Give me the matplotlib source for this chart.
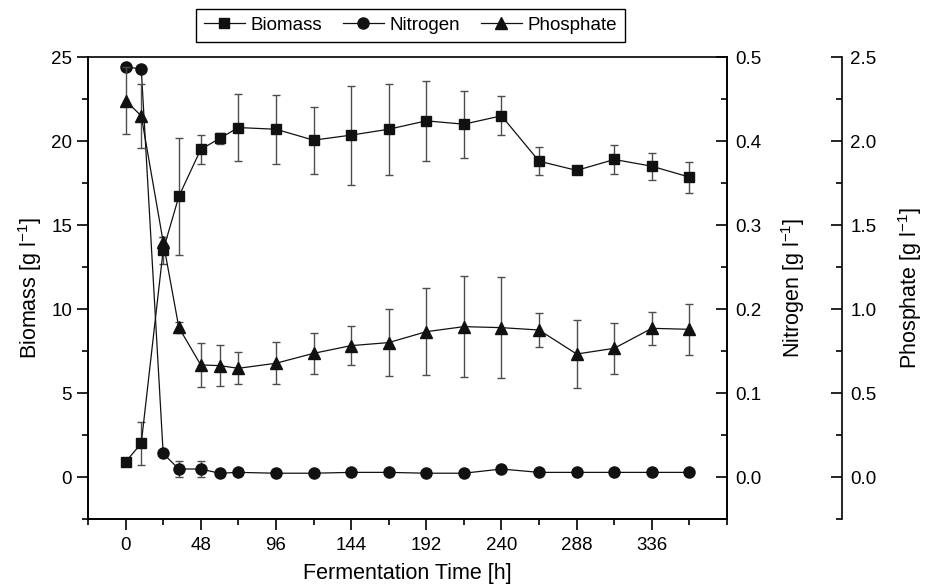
import numpy as np
import matplotlib
matplotlib.use("Agg")
import matplotlib.pyplot as plt
from matplotlib.ticker import MultipleLocator, FormatStrFormatter

plt.rcParams['font.family'] = ['Liberation Sans', 'DejaVu Sans']
plt.rcParams['mathtext.fontset'] = 'custom'
plt.rcParams['mathtext.rm'] = 'Liberation Sans'
plt.rcParams['mathtext.it'] = 'Liberation Sans'

# ---------------- data ----------------
time_h = [0, 10, 24, 34, 48, 60, 72, 96, 120, 144, 168, 192, 216, 240, 264, 288, 312, 336, 360]

biomass = [0.9, 2.0, 13.5, 16.7, 19.5, 20.15, 20.8, 20.7, 20.05, 20.35, 20.7, 21.2, 21.0, 21.5,
           18.8, 18.25, 18.9, 18.5, 17.85]
biomass_err = [0.2, 1.3, 0.8, 3.5, 0.87, 0.3, 2.0, 2.05, 2.0, 2.95, 2.7, 2.4, 2.0, 1.15,
               0.85, 0.15, 0.85, 0.8, 0.92]

nitrogen = [0.488, 0.486, 0.028, 0.0095, 0.0095, 0.0045, 0.0055, 0.0045, 0.0045, 0.0055, 0.0055,
            0.0045, 0.0045, 0.0095, 0.0055, 0.0055, 0.0055, 0.0055, 0.0055]
nitrogen_err = [0.002, 0.002, 0.002, 0.0095, 0.0095, 0.002, 0.002, 0.002, 0.002, 0.002, 0.002,
                0.002, 0.002, 0.004, 0.002, 0.002, 0.002, 0.002, 0.002]

phosphate = [2.24, 2.15, 1.40, 0.89, 0.667, 0.663, 0.647, 0.677, 0.736, 0.782, 0.80, 0.865,
             0.895, 0.889, 0.875, 0.732, 0.766, 0.885, 0.879]
phosphate_err = [0.2, 0.19, 0.03, 0.03, 0.13, 0.12, 0.096, 0.126, 0.12, 0.114, 0.20, 0.26,
                 0.30, 0.30, 0.10, 0.20, 0.15, 0.10, 0.15]

x_ticks = [0, 48, 96, 144, 192, 240, 288, 336]

# ---------------- figure ----------------
W, H = 927, 588
fig = plt.figure(figsize=(W / 100, H / 100), dpi=100)
ax = fig.add_axes([88 / W, 69 / H, (727 - 88) / W, (519 - 57) / H])
ax_n = ax.twinx()
ax_p = ax.twinx()

err_style = dict(ecolor='0.3', elinewidth=1.0, capsize=3, capthick=1.0, color='#111111', lw=0.9)

l_b = ax.errorbar(time_h, biomass, yerr=biomass_err, marker='s', ms=6.8, label='Biomass', **err_style)
l_n = ax_n.errorbar(time_h, nitrogen, yerr=nitrogen_err, marker='o', ms=8, label='Nitrogen', **err_style)
l_p = ax_p.errorbar(time_h, phosphate, yerr=phosphate_err, marker='^', ms=9, label='Phosphate', **err_style)

# x axis
ax.set_xlim(-24, 384)
ax.set_xticks(x_ticks)
ax.xaxis.set_minor_locator(MultipleLocator(24))
ax.set_xlabel('Fermentation Time [h]', fontsize=15.5)
ax.xaxis.set_label_coords(0.5, (519 - 573) / 462)
ax.xaxis.label.set_va('center')

# left axis (biomass)
ax.set_ylim(-2.5, 25)
ax.set_yticks([0, 5, 10, 15, 20, 25])
ax.yaxis.set_minor_locator(MultipleLocator(2.5))
ax.set_ylabel('Biomass [g l$^{-1}$]', fontsize=15.5)
ax.yaxis.set_label_coords((30 - 88) / 639, 0.5)
ax.yaxis.label.set_va('center')
ax.spines['top'].set_visible(False)
ax.tick_params(axis='both', which='major', direction='out', length=8, width=1.2, labelsize=13.5)
ax.tick_params(axis='both', which='minor', direction='out', length=4.5, width=1.2)
ax.tick_params(axis='x', which='major', pad=5)
ax.tick_params(axis='y', right=False, which='both')

# nitrogen axis (right spine)
ax_n.set_ylim(-0.05, 0.5)
ax_n.set_yticks([0.0, 0.1, 0.2, 0.3, 0.4, 0.5])
ax_n.yaxis.set_major_formatter(FormatStrFormatter('%.1f'))
ax_n.yaxis.set_minor_locator(MultipleLocator(0.05))
ax_n.set_ylabel('Nitrogen [g l$^{-1}$]', fontsize=15.5)
ax_n.yaxis.set_label_coords((793 - 88) / 639, 0.5)
ax_n.yaxis.label.set_va('center')
ax_n.tick_params(axis='y', which='major', direction='in', length=8, width=1.2, labelsize=13.5, pad=6)
ax_n.tick_params(axis='y', which='minor', direction='in', length=4.5, width=1.2)

# phosphate axis (offset, in points)
ax_p.spines['right'].set_position(('outward', (842 - 727) * 0.72))
for s in ['left', 'top', 'bottom']:
    ax_p.spines[s].set_visible(False)
ax_p.set_ylim(-0.25, 2.5)
ax_p.set_yticks([0.0, 0.5, 1.0, 1.5, 2.0, 2.5])
ax_p.yaxis.set_major_formatter(FormatStrFormatter('%.1f'))
ax_p.yaxis.set_minor_locator(MultipleLocator(0.25))
ax_p.set_ylabel('Phosphate [g l$^{-1}$]', fontsize=15.5)
ax_p.yaxis.set_label_coords((910 - 88) / 639, 0.5)
ax_p.yaxis.label.set_va('center')
ax_p.tick_params(axis='y', which='major', direction='in', length=8, width=1.2, labelsize=13.5, pad=6)
ax_p.tick_params(axis='y', which='minor', direction='in', length=4.5, width=1.2)

for a in (ax, ax_n, ax_p):
    for s in a.spines.values():
        s.set_linewidth(1.2)
    a.patch.set_visible(False)

# legend above the plot
handles = [l_b[0], l_n[0], l_p[0]]
leg = fig.legend(handles, ['Biomass', 'Nitrogen', 'Phosphate'], loc='upper right',
                 bbox_to_anchor=(625 / W, 1 - 9 / H), borderaxespad=0, ncol=3, fancybox=False,
                 edgecolor='black', framealpha=1, fontsize=13.5, handlelength=2.2,
                 columnspacing=1.1, handletextpad=0.3, borderpad=0.42, numpoints=1)
leg.get_frame().set_linewidth(1.0)

fig.savefig('out.png', dpi=100)
